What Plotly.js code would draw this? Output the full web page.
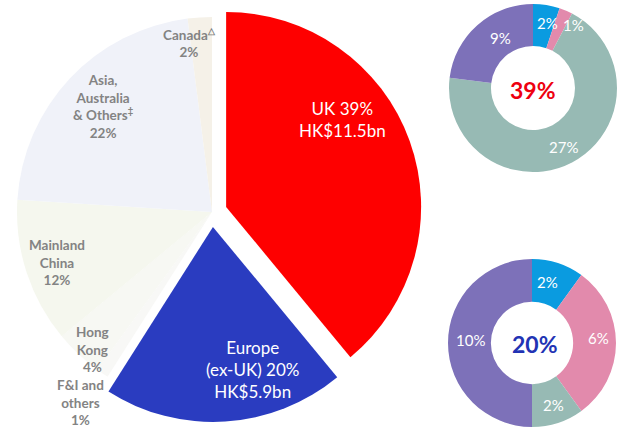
<!DOCTYPE html>
<html>
<head>
<meta charset="utf-8">
<script src="https://cdn.plot.ly/plotly-3.0.1.min.js"></script>
<style>html,body{margin:0;padding:0;background:#fff;}#chart{width:624px;height:433px;}</style>
</head>
<body>
<div id="chart"></div>
<script>
// ---- data ----
var regions = ['UK', 'Europe (ex-UK)', 'F&I and others', 'Hong Kong', 'Mainland China', 'Asia, Australia & Others', 'Canada'];
var regionShares = [39, 20, 1, 4, 12, 22, 2];
var regionAmounts = ['HK$11.5bn', 'HK$5.9bn', '', '', '', '', ''];
var segments = ['Segment A', 'Segment B', 'Segment C', 'Segment D'];
var ukSegmentShares = [2, 1, 27, 9];
var europeSegmentShares = [2, 6, 2, 10];

// ---- styles ----
var W = 624, H = 433;
var regionColors = ['#fe0000', '#2a3cc0', '#f8f8f6', '#f7f8f3', '#f5f7ee', '#f0f2f9', '#f5f1e8'];
var regionPull = [0.077, 0.077, 0, 0, 0, 0, 0];
var segColors = ['#0a9be0', '#e28aac', '#97bab4', '#7d71b9'];
function px(x, y) { return {x: x / W, y: 1 - y / H}; }
function dom(x0, y0, x1, y1) { return {x: [x0 / W, x1 / W], y: [1 - y1 / H, 1 - y0 / H]}; }

var traces = [
  {type: 'pie', values: regionShares, labels: regions, sort: false, direction: 'clockwise',
   rotation: 0, pull: regionPull, textinfo: 'none', hoverinfo: 'label+percent',
   marker: {colors: regionColors, line: {width: 0}},
   domain: dom(2, 2, 422, 422), showlegend: false},
  {type: 'pie', values: ukSegmentShares, labels: segments, sort: false, direction: 'clockwise',
   rotation: 0, hole: 0.5, textinfo: 'none', marker: {colors: segColors, line: {width: 0}},
   domain: dom(449, 4, 617, 172), showlegend: false},
  {type: 'pie', values: europeSegmentShares, labels: segments, sort: false, direction: 'clockwise',
   rotation: 0, hole: 0.49, textinfo: 'none', marker: {colors: segColors, line: {width: 0}},
   domain: dom(448, 259, 616, 427), showlegend: false}
];

var FONT = 'Lato, "Open Sans", sans-serif';
var anns = [];
function ann(text, x, y, size, color, bold) {
  var p = px(x, y);
  anns.push({xref: 'paper', yref: 'paper', x: p.x, y: p.y, xanchor: 'center', yanchor: 'middle',
    showarrow: false, align: 'center', text: bold ? '<b>' + text + '</b>' : text,
    font: {family: FONT, size: size, color: color}});
}
var grey = '#838383';
// main pie labels
ann('UK ' + regionShares[0] + '%<br>' + regionAmounts[0], 342, 119, 17, '#ffffff', false);
ann('Europe<br>(ex-UK) ' + regionShares[1] + '%<br>' + regionAmounts[1], 252, 369.5, 17, '#ffffff', false);
ann('F&I and<br>others<br>' + regionShares[2] + '%', 80, 402.5, 13.5, grey, true);
ann('Hong<br>Kong<br>' + regionShares[3] + '%', 92, 349, 13.5, grey, true);
ann('Mainland<br>China<br>' + regionShares[4] + '%', 57, 262.5, 13.5, grey, true);
ann('Asia,<br>Australia<br>& Others<sup>‡</sup><br>' + regionShares[5] + '%', 103, 106.5, 13.5, grey, true);
ann('Canada<sup>△</sup><br>' + regionShares[6] + '%', 190, 42.5, 13.5, grey, true);
// donut labels
var ukPos = [[547, 23], [573, 25], [563, 147], [500, 38]];
var euPos = [[547, 282], [598, 338], [553, 405], [470, 340]];
for (var i = 0; i < segments.length; i++) {
  ann(ukSegmentShares[i] + '%', ukPos[i][0], ukPos[i][1], 15, '#ffffff', false);
  ann(europeSegmentShares[i] + '%', euPos[i][0], euPos[i][1], 15, '#ffffff', false);
}
ann(regionShares[0] + '%', 533, 90, 23, '#ee0010', true);
ann(regionShares[1] + '%', 535, 344, 23, '#2233b4', true);

Plotly.newPlot('chart', traces, {
  width: W, height: H, margin: {l: 0, r: 0, t: 0, b: 0},
  paper_bgcolor: '#ffffff', plot_bgcolor: '#ffffff', annotations: anns, showlegend: false
}, {displayModeBar: false, staticPlot: true});
</script>
</body>
</html>
